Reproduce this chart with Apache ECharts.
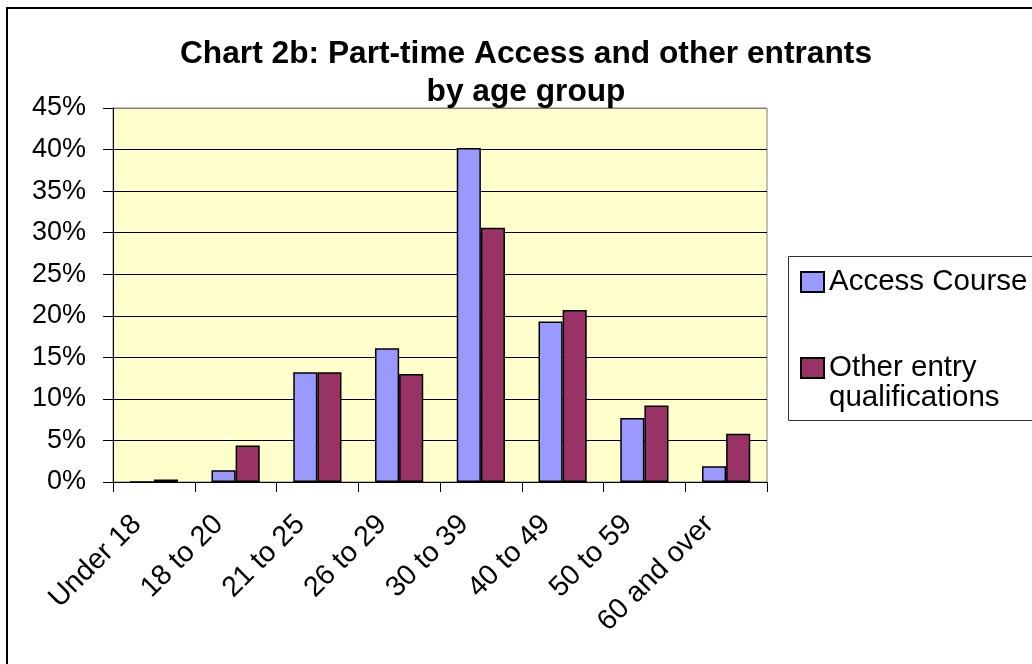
<!DOCTYPE html>
<html>
<head>
<meta charset="utf-8">
<script src="https://cdn.jsdelivr.net/npm/echarts@6/dist/echarts.min.js"></script>
<style>
html,body{margin:0;padding:0;background:#fff;}
#chart{width:1032px;height:664px;}
</style>
</head>
<body>
<div id="chart"></div>
<script>
var categories = ['Under 18', '18 to 20', '21 to 25', '26 to 29', '30 to 39', '40 to 49', '50 to 59', '60 and over'];
var accessCourse = [0, 1.4, 13.2, 16.1, 40.2, 19.3, 7.7, 1.9];
var otherEntry = [0.3, 4.4, 13.2, 13.0, 30.6, 20.7, 9.2, 5.8];
var seriesNames = ['Access Course', 'Other entry qualifications'];
var titleText = 'Chart 2b: Part-time Access and other entrants\nby age group';

var FONT = '"Liberation Sans", Arial, sans-serif';
var chart = echarts.init(document.getElementById('chart'));
var gridLineColors = ['#000','#000','#000','#000','#000','#000','#000','#000','#000','#808080'];

chart.setOption({
  backgroundColor: '#fff',
  animation: false,
  title: {
    text: titleText,
    left: 521,
    top: 30,
    textAlign: 'center',
    textStyle: { fontFamily: FONT, fontSize: 31.7, fontWeight: 'bold', color: '#000', lineHeight: 38 }
  },
  graphic: [
    { type: 'rect', shape: { x: 7, y: 8, width: 1100, height: 700 }, style: { fill: 'none', stroke: '#000', lineWidth: 2 }, silent: true, z: 100 },
    { type: 'rect', shape: { x: 788.5, y: 256.5, width: 300, height: 164 }, style: { fill: 'none', stroke: '#333', lineWidth: 1 }, silent: true, z: 100 }
  ],
  legend: [
    {
      data: [seriesNames[0]],
      left: 800, top: 267, padding: 0,
      itemWidth: 23, itemHeight: 20, itemGap: 7,
      icon: 'rect',
      textStyle: { fontFamily: FONT, fontSize: 29.5, color: '#000', lineHeight: 30 }
    },
    {
      data: [seriesNames[1]],
      left: 800, top: 323, padding: 0,
      itemWidth: 23, itemHeight: 20, itemGap: 7,
      icon: 'rect',
      formatter: function (n) { return ' \nOther entry\nqualifications'; },
      textStyle: { fontFamily: FONT, fontSize: 29.5, color: '#000', lineHeight: 30 }
    }
  ],
  grid: {
    left: 113, top: 108, right: 265, bottom: 182,
    show: true, backgroundColor: '#FFFFCC', borderColor: '#808080', borderWidth: 1
  },
  xAxis: {
    type: 'category',
    data: categories,
    boundaryGap: true,
    axisLine: { show: true, lineStyle: { color: '#000', width: 1 } },
    axisTick: { show: true, inside: false, length: 10, alignWithLabel: false, lineStyle: { color: '#000' } },
    axisLabel: { rotate: 45, margin: 21, padding: [0, 24, 0, 0], fontFamily: FONT, fontSize: 28.5, color: '#000', interval: 0 },
    splitLine: { show: false }
  },
  yAxis: {
    type: 'value',
    min: 0, max: 45, interval: 5,
    axisLine: { show: true, lineStyle: { color: '#000', width: 1 } },
    axisTick: { show: true, inside: false, length: 10, lineStyle: { color: '#000' } },
    axisLabel: { formatter: '{value}%', margin: 27, fontFamily: FONT, fontSize: 27, color: '#000' },
    splitLine: { show: true, lineStyle: { color: gridLineColors, width: 1 } }
  },
  series: [
    {
      name: seriesNames[0], type: 'bar', data: accessCourse,
      barGap: '0%', barCategoryGap: '41%',
      itemStyle: { color: '#9999FF', borderColor: '#000', borderWidth: 1.5 }
    },
    {
      name: seriesNames[1], type: 'bar', data: otherEntry,
      barGap: '0%', barCategoryGap: '41%',
      itemStyle: { color: '#993366', borderColor: '#000', borderWidth: 1.5 }
    }
  ]
});
</script>
</body>
</html>
